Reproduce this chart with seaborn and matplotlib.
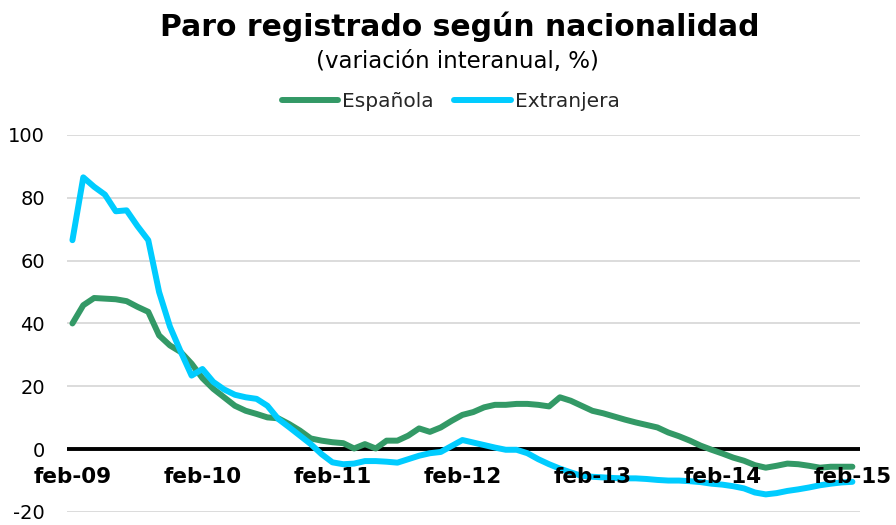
import matplotlib
matplotlib.use("Agg")
import matplotlib.pyplot as plt
import numpy as np
import pandas as pd
import seaborn as sns

sns.set_theme(style="white")
plt.rcParams["font.family"] = ["DejaVu Sans"]

# monthly values, feb-09 .. feb-15 (73 months)
espanola = [
    40.0, 45.8, 48.1, 47.9, 47.7, 47.1, 45.3, 43.7, 36.2, 33.0, 30.9, 27.2,
    22.6, 19.2, 16.5, 13.8, 12.2, 11.2, 10.1, 9.8, 8.0, 5.9, 3.4, 2.7,
    2.2, 1.9, 0.2, 1.6, 0.2, 2.7, 2.7, 4.3, 6.6, 5.5, 6.9, 9.0,
    10.9, 11.8, 13.3, 14.1, 14.1, 14.4, 14.4, 14.1, 13.6, 16.5, 15.4, 13.8,
    12.2, 11.4, 10.4, 9.4, 8.5, 7.7, 6.9, 5.3, 4.1, 2.7, 1.1, -0.2,
    -1.4, -2.7, -3.7, -5.1, -5.9, -5.3, -4.6, -4.8, -5.3, -5.9, -5.6, -5.6,
    -5.6,
]
extranjera = [
    66.5, 86.5, 83.5, 81.0, 75.7, 76.0, 71.0, 66.5, 50.0, 39.0, 31.0, 23.4,
    25.5, 21.4, 19.0, 17.3, 16.5, 16.0, 13.8, 9.6, 7.0, 4.3, 1.6, -1.6,
    -4.2, -4.8, -4.6, -3.8, -3.8, -4.0, -4.3, -3.2, -2.1, -1.3, -0.9, 1.0,
    2.9, 2.1, 1.3, 0.5, -0.2, -0.2, -1.3, -3.2, -4.8, -6.2, -7.4, -8.5,
    -8.8, -9.0, -9.2, -9.3, -9.3, -9.5, -9.8, -10.0, -10.0, -10.2, -10.5, -11.0,
    -11.3, -11.8, -12.5, -13.8, -14.4, -14.0, -13.3, -12.8, -12.2, -11.5, -11.0, -10.6,
    -10.4,
]
series_names = ["Española", "Extranjera"]
x_labels = ["feb-09", "feb-10", "feb-11", "feb-12", "feb-13", "feb-14", "feb-15"]
y_ticks = [-20, 0, 20, 40, 60, 80, 100]

months = np.arange(len(espanola))
df = pd.DataFrame({
    "mes": np.concatenate([months, months]),
    "valor": espanola + extranjera,
    "serie": [series_names[0]] * len(espanola) + [series_names[1]] * len(extranjera),
})

fig = plt.figure(figsize=(8.96, 5.25), dpi=100)
ax = fig.add_axes([0.0748, 0.0248, 0.885, 0.7182])

for y in y_ticks:
    if y != 0:
        ax.axhline(y, color="#d9d9d9", linewidth=1.3, zorder=0)
ax.axhline(0, color="black", linewidth=2.8, zorder=1)

sns.lineplot(
    data=df, x="mes", y="valor", hue="serie",
    palette={"Española": "#339966", "Extranjera": "#00ccff"},
    linewidth=4.3, ax=ax, legend=False, zorder=3,
    solid_capstyle="round", solid_joinstyle="round",
)

ax.set_xlim(-0.5, 72.7)
ax.set_ylim(-20, 100)
ax.set_yticks(y_ticks)
ax.set_yticklabels([str(v) for v in y_ticks], fontsize=14, color="black")
ax.tick_params(axis="y", length=0, pad=16)
ax.set_xticks([])
ax.set_xlabel("")
ax.set_ylabel("")
for s in ax.spines.values():
    s.set_visible(False)

for i, lbl in enumerate(x_labels):
    ax.text(i * 12, -9, lbl, ha="center", va="center", fontsize=15.5,
            fontweight="bold", color="black", zorder=5)

fig.text(0.513, 0.949, "Paro registrado según nacionalidad", ha="center",
         va="center", fontsize=21.5, fontweight="bold", color="black")
fig.text(0.51, 0.882, "(variación interanual, %)", ha="center", va="center",
         fontsize=16.5, color="black")

handles = [
    plt.Line2D([], [], color="#339966", linewidth=4.3, solid_capstyle="round"),
    plt.Line2D([], [], color="#00ccff", linewidth=4.3, solid_capstyle="round"),
]
fig.legend(handles, series_names, loc="center", bbox_to_anchor=(0.503, 0.807),
           ncol=2, frameon=False, fontsize=14.5, handlelength=2.8,
           handletextpad=0.2, columnspacing=1.0)

fig.savefig("out.png", dpi=100)
